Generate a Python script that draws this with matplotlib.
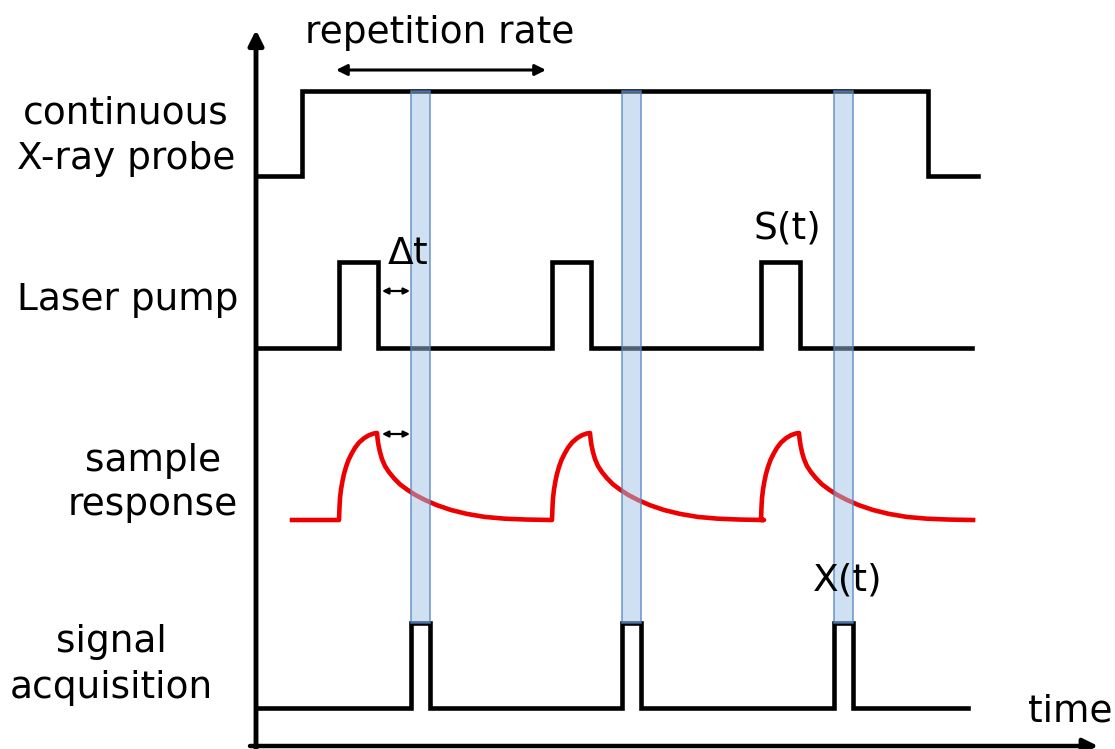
import numpy as np
import matplotlib.pyplot as plt

# timing values (horizontal position = time)
xray_on, xray_off = 302, 928
pump_starts = [339, 552, 761]
pump_width = 39
gate_starts = [411, 622, 834]   # X-ray gates / acquisition windows
gate_width = 19

# one cycle of the sample response after a pump pulse: delay and relative amplitude
resp_dt = [0, 0.5, 1, 2, 3.5, 5, 7, 9.5, 12.5, 16, 20, 25, 30, 35, 38,
           38.6, 39.5, 41, 43, 46, 50, 55, 61, 68, 76, 86, 98, 112, 128,
           146, 166, 188, 212]
resp_amp = [0, 0.15, 0.25, 0.35, 0.45, 0.53, 0.61, 0.69, 0.76, 0.83, 0.89,
            0.94, 0.975, 0.995, 1.0,
            0.93, 0.86, 0.78, 0.7, 0.62, 0.55, 0.48, 0.41, 0.35, 0.29, 0.23,
            0.17, 0.115, 0.07, 0.035, 0.015, 0.005, 0]

row_labels = ['continuous\nX-ray probe', 'Laser pump', 'sample\nresponse', 'signal\nacquisition']


def pulse_train(starts, width, t0, t1, low, high):
    xs, ys = [t0], [low]
    for s in starts:
        xs += [s, s, s + width, s + width]
        ys += [low, high, high, low]
    xs.append(t1)
    ys.append(low)
    return xs, ys


fig = plt.figure(figsize=(11.15, 7.49), dpi=100)
ax = fig.add_axes([0, 0, 1, 1])
ax.set_xlim(0, 1115)
ax.set_ylim(749, 0)
ax.axis('off')

lw = 3.3
# continuous X-ray probe
x, y = pulse_train([xray_on], xray_off - xray_on, 256, 978, 176, 91)
ax.plot(x, y, color='black', lw=lw, solid_joinstyle='miter')

# laser pump
x, y = pulse_train(pump_starts, pump_width, 256, 972, 348, 262)
ax.plot(x, y, color='black', lw=lw, solid_joinstyle='miter')

# sample response
sx, sy = [292], [520]
for s in pump_starts:
    sx += [s + d for d in resp_dt]
    sy += [520 - 87 * a for a in resp_amp]
ax.plot(sx, sy, color='#ee0000', lw=3.3, solid_joinstyle='round')

# signal acquisition
x, y = pulse_train(gate_starts, gate_width, 256, 968, 708, 623)
ax.plot(x, y, color='black', lw=lw, solid_joinstyle='miter')

# X-ray gate bands
ax.bar(gate_starts, 532, width=gate_width, bottom=91, align='edge',
       facecolor=(0.62, 0.76, 0.9, 0.5), edgecolor=(0.3, 0.5, 0.76, 0.75),
       lw=1.2, zorder=3)

# axes arrows
ax.annotate('', xy=(256, 30), xytext=(256, 752),
            arrowprops=dict(arrowstyle='-|>', lw=3.5, color='black',
                            mutation_scale=22, shrinkA=0, shrinkB=0))
ax.annotate('', xy=(1098, 746), xytext=(250, 746),
            arrowprops=dict(arrowstyle='-|>', lw=3.2, color='black',
                            mutation_scale=22, shrinkA=0, shrinkB=0))

# repetition rate and delay arrows
ax.annotate('', xy=(546, 70), xytext=(336, 70),
            arrowprops=dict(arrowstyle='<|-|>', lw=2.2, color='black',
                            mutation_scale=16, shrinkA=0, shrinkB=0))
for yy in [291, 434]:
    ax.annotate('', xy=(410, yy), xytext=(382, yy),
                arrowprops=dict(arrowstyle='<|-|>', lw=1.6, color='black',
                                mutation_scale=9, shrinkA=0, shrinkB=0))

fs = 27
ax.text(126, 136, row_labels[0], ha='center', va='center', fontsize=fs, linespacing=1.35)
ax.text(128, 300, row_labels[1], ha='center', va='center', fontsize=fs)
ax.text(153, 483, row_labels[2], ha='center', va='center', fontsize=fs, linespacing=1.3)
ax.text(111, 665, row_labels[3], ha='center', va='center', fontsize=fs, linespacing=1.35)

ax.text(440, 33, 'repetition rate', ha='center', va='center', fontsize=fs)
ax.text(408, 254, '$\\Delta$t', ha='center', va='center', fontsize=fs)
ax.text(787, 228, 'S(t)', ha='center', va='center', fontsize=fs)
ax.text(848, 580, 'X(t)', ha='center', va='center', fontsize=fs)
ax.text(1070, 712, 'time', ha='center', va='center', fontsize=fs)

fig.savefig('out.png', dpi=100)
